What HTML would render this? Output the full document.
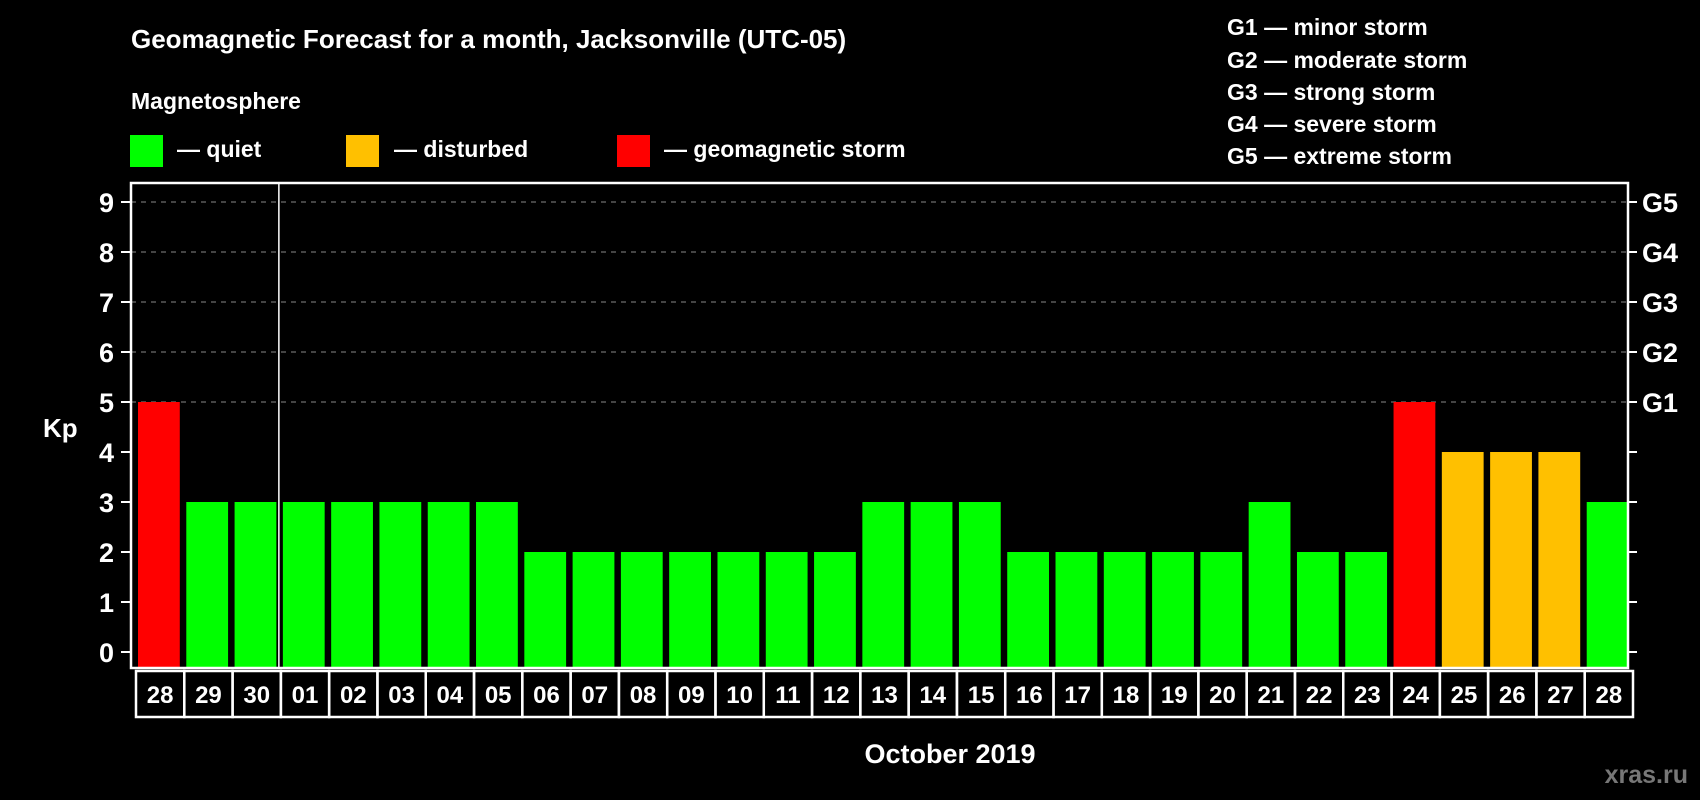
<!DOCTYPE html>
<html><head><meta charset="utf-8"><style>
html,body{margin:0;padding:0;background:#000;}
svg{display:block;font-family:"Liberation Sans",sans-serif;font-weight:bold;}
</style></head><body>
<svg id="chart" width="1700" height="800" viewBox="0 0 1700 800">
<rect width="1700" height="800" fill="#000"/>
<text x="131" y="48" fill="#fff" font-size="26">Geomagnetic Forecast for a month, Jacksonville (UTC-05)</text>
<text x="131" y="109" fill="#fff" font-size="23">Magnetosphere</text>
<g><rect x="130" y="135" width="33" height="32" fill="#00ff00"/><text x="177" y="157" fill="#fff" font-size="23">— quiet</text></g>
<g><rect x="346" y="135" width="33" height="32" fill="#ffc000"/><text x="394" y="157" fill="#fff" font-size="23">— disturbed</text></g>
<g><rect x="617" y="135" width="33" height="32" fill="#ff0000"/><text x="664" y="157" fill="#fff" font-size="23">— geomagnetic storm</text></g>
<g fill="#fff" font-size="23">
<text x="1227" y="35">G1 — minor storm</text>
<text x="1227" y="68">G2 — moderate storm</text>
<text x="1227" y="100">G3 — strong storm</text>
<text x="1227" y="132">G4 — severe storm</text>
<text x="1227" y="164">G5 — extreme storm</text>
</g>
<g id="plot"></g>
<text x="43" y="437" fill="#fff" font-size="26">Kp</text>
<text x="950" y="763" fill="#fff" font-size="27" text-anchor="middle">October 2019</text>
<text x="1688" y="783" fill="#777" font-size="25" text-anchor="end">xras.ru</text>
</svg>
<script>
const days=["28","29","30","01","02","03","04","05","06","07","08","09","10","11","12","13","14","15","16","17","18","19","20","21","22","23","24","25","26","27","28"];
const kp=[5,3,3,3,3,3,3,3,2,2,2,2,2,2,2,3,3,3,2,2,2,2,2,3,2,2,5,4,4,4,3];
const yTicks=[0,1,2,3,4,5,6,7,8,9];
const gLabels=["G1","G2","G3","G4","G5"];
const gLevels=[5,6,7,8,9];
const NS="http://www.w3.org/2000/svg";
const L=131,R=1628,T=183,B=668;
const step=(R-L)/days.length;
const y=v=>652-v*50;
const x=i=>L+i*step;
const g=document.getElementById('plot');
function mk(t,a,p){const e=document.createElementNS(NS,t);for(const k in a)e.setAttribute(k,a[k]);(p||g).appendChild(e);return e;}
function color(v){return v>=5?"#ff0000":v>=4?"#ffc000":"#00ff00";}
gLevels.forEach((lv,i)=>{
 const ln=mk('line',{x1:L,x2:R,y1:y(lv),y2:y(lv),stroke:"#888","stroke-dasharray":"5,5","stroke-width":1});
 
 
 const t=mk('text',{x:1642,y:y(lv)+10,fill:"#fff","font-size":27});
 t.textContent=gLabels[i];
 
 
});
kp.forEach((v,i)=>{
 const r=mk('rect',{x:x(i)+7,y:y(v),width:step-6.5,height:B-y(v),fill:color(v)});
 
 
 const c=mk('rect',{x:x(i)+5,y:671,width:step,height:46,fill:"none",stroke:"#fff","stroke-width":2.5});
 
 
 const t=mk('text',{x:x(i)+5+step/2,y:703,fill:"#fff","font-size":24,"text-anchor":"middle"});
 t.textContent=days[i];
 
 
});
yTicks.forEach(v=>{
 const tk=mk('line',{x1:121,x2:L,y1:y(v),y2:y(v),stroke:"#fff","stroke-width":2});
 
 
 const tr=mk('line',{x1:R,x2:R+9,y1:y(v),y2:y(v),stroke:"#fff","stroke-width":2});
 
 
 const t=mk('text',{x:114,y:y(v)+10,fill:"#fff","font-size":27,"text-anchor":"end"});
 t.textContent=v;
 
 
});
const sep=mk('line',{x1:x(3)+3,x2:x(3)+3,y1:T,y2:B,stroke:"#fff","stroke-width":1.5});


const fr=mk('rect',{x:L,y:T,width:R-L,height:B-T,fill:"none",stroke:"#fff","stroke-width":2.5});


</script>
</body></html>
